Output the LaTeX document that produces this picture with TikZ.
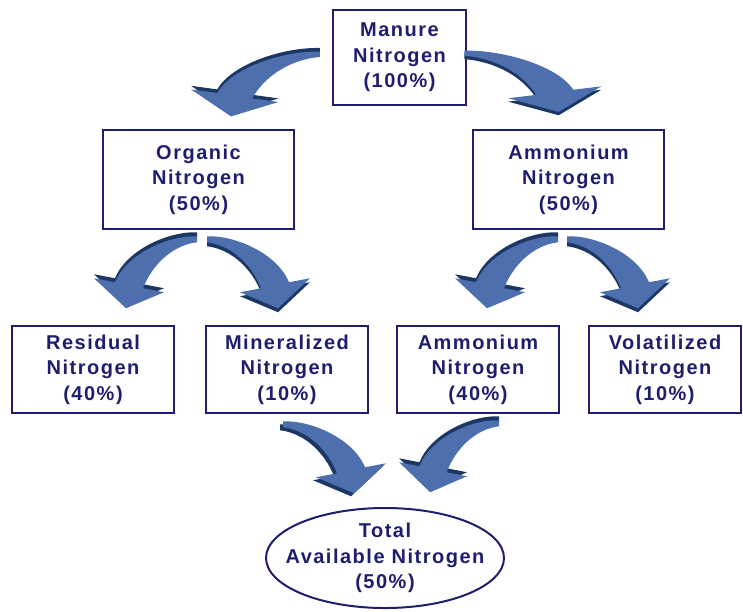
\documentclass[tikz,border=0pt]{standalone}
\usepackage{fontspec}
\newfontfamily\boxfont[LetterSpace=7.5]{Liberation Sans}
\usetikzlibrary{shapes.geometric}

\definecolor{navyline}{HTML}{1E1E6E}
\definecolor{arrowlight}{HTML}{4E6FAE}
\definecolor{arrowdark}{HTML}{1C3763}

% one bent block arrow, tail at the origin, head down to the right
\newcommand{\bentarrow}{(0,-1) .. controls (28,-2) and (70,16) .. (82,45) -- (103,41) -- (71,71) -- (33,55) -- (54,51) .. controls (45,28) and (25,8) .. (0,5) -- cycle}

\begin{document}
\begin{tikzpicture}[
    x=1pt, y=-1pt,
    font=\boxfont\bfseries\fontsize{20}{25.5}\selectfont,
    box/.style={draw=navyline,line width=2.5pt,text=navyline,align=center,inner sep=0pt},
    pool/.style={box,minimum width=162,minimum height=87},
    split/.style={box,minimum width=191,minimum height=99}
]
\path[use as bounding box] (0,0) rectangle (743,611);

\node[box,minimum width=133,minimum height=95] (manure) at (399.5,57.5) {Manure\\Nitrogen\\(100\%)};
\node[split] (organic) at (198.5,179.5) {Organic\\Nitrogen\\(50\%)};
\node[split] (ammoniumtop) at (568.5,179.5) {Ammonium\\Nitrogen\\(50\%)};
\node[pool] (residual) at (93,369.5) {Residual\\Nitrogen\\(40\%)};
\node[pool] (mineralized) at (287,369.5) {Mineralized\\Nitrogen\\(10\%)};
\node[pool] (ammoniumlow) at (478,369.5) {Ammonium\\Nitrogen\\(40\%)};
\node[pool,minimum width=152] (volatilized) at (665,369.5) {Volatilized\\Nitrogen\\(10\%)};
% the text runs almost to the rim, so the ellipse is sized by hand
\node[box,ellipse,line width=2pt,minimum width=238,minimum height=100] (total) at (385,558) {};
\node[text=navyline,align=center] (totaltext) at (total.center) {Total\\Available Nitrogen\\(50\%)};

% block arrows: anchor / offset of tail / scales / offset of the dark side
\foreach \from/\ox/\oy/\sx/\sy/\dx/\dy in {
    manure.west/-12/-5/-1.25/0.9/0/-4,
    manure.east/-3/-6/1.33/0.85/0/4,
    organic.south/-1.5/7/-1/1/0/-4,
    organic.south/8.5/7/1/1/0/4,
    ammoniumtop.south/-10.5/7/-1/1/0/-4,
    ammoniumtop.south/-1.5/7/1/1/0/4,
    mineralized.south/-4/8/1/1/-3/3,
    ammoniumlow.south/21/7/-0.97/1/0/-4} {
  \begin{scope}[shift={(\from)},shift={(\ox,\oy)},xscale=\sx,yscale=\sy]
    \fill[arrowdark,shift={(\dx,\dy)}] \bentarrow;
    \fill[arrowlight] \bentarrow;
  \end{scope}
}
\end{tikzpicture}
\end{document}
